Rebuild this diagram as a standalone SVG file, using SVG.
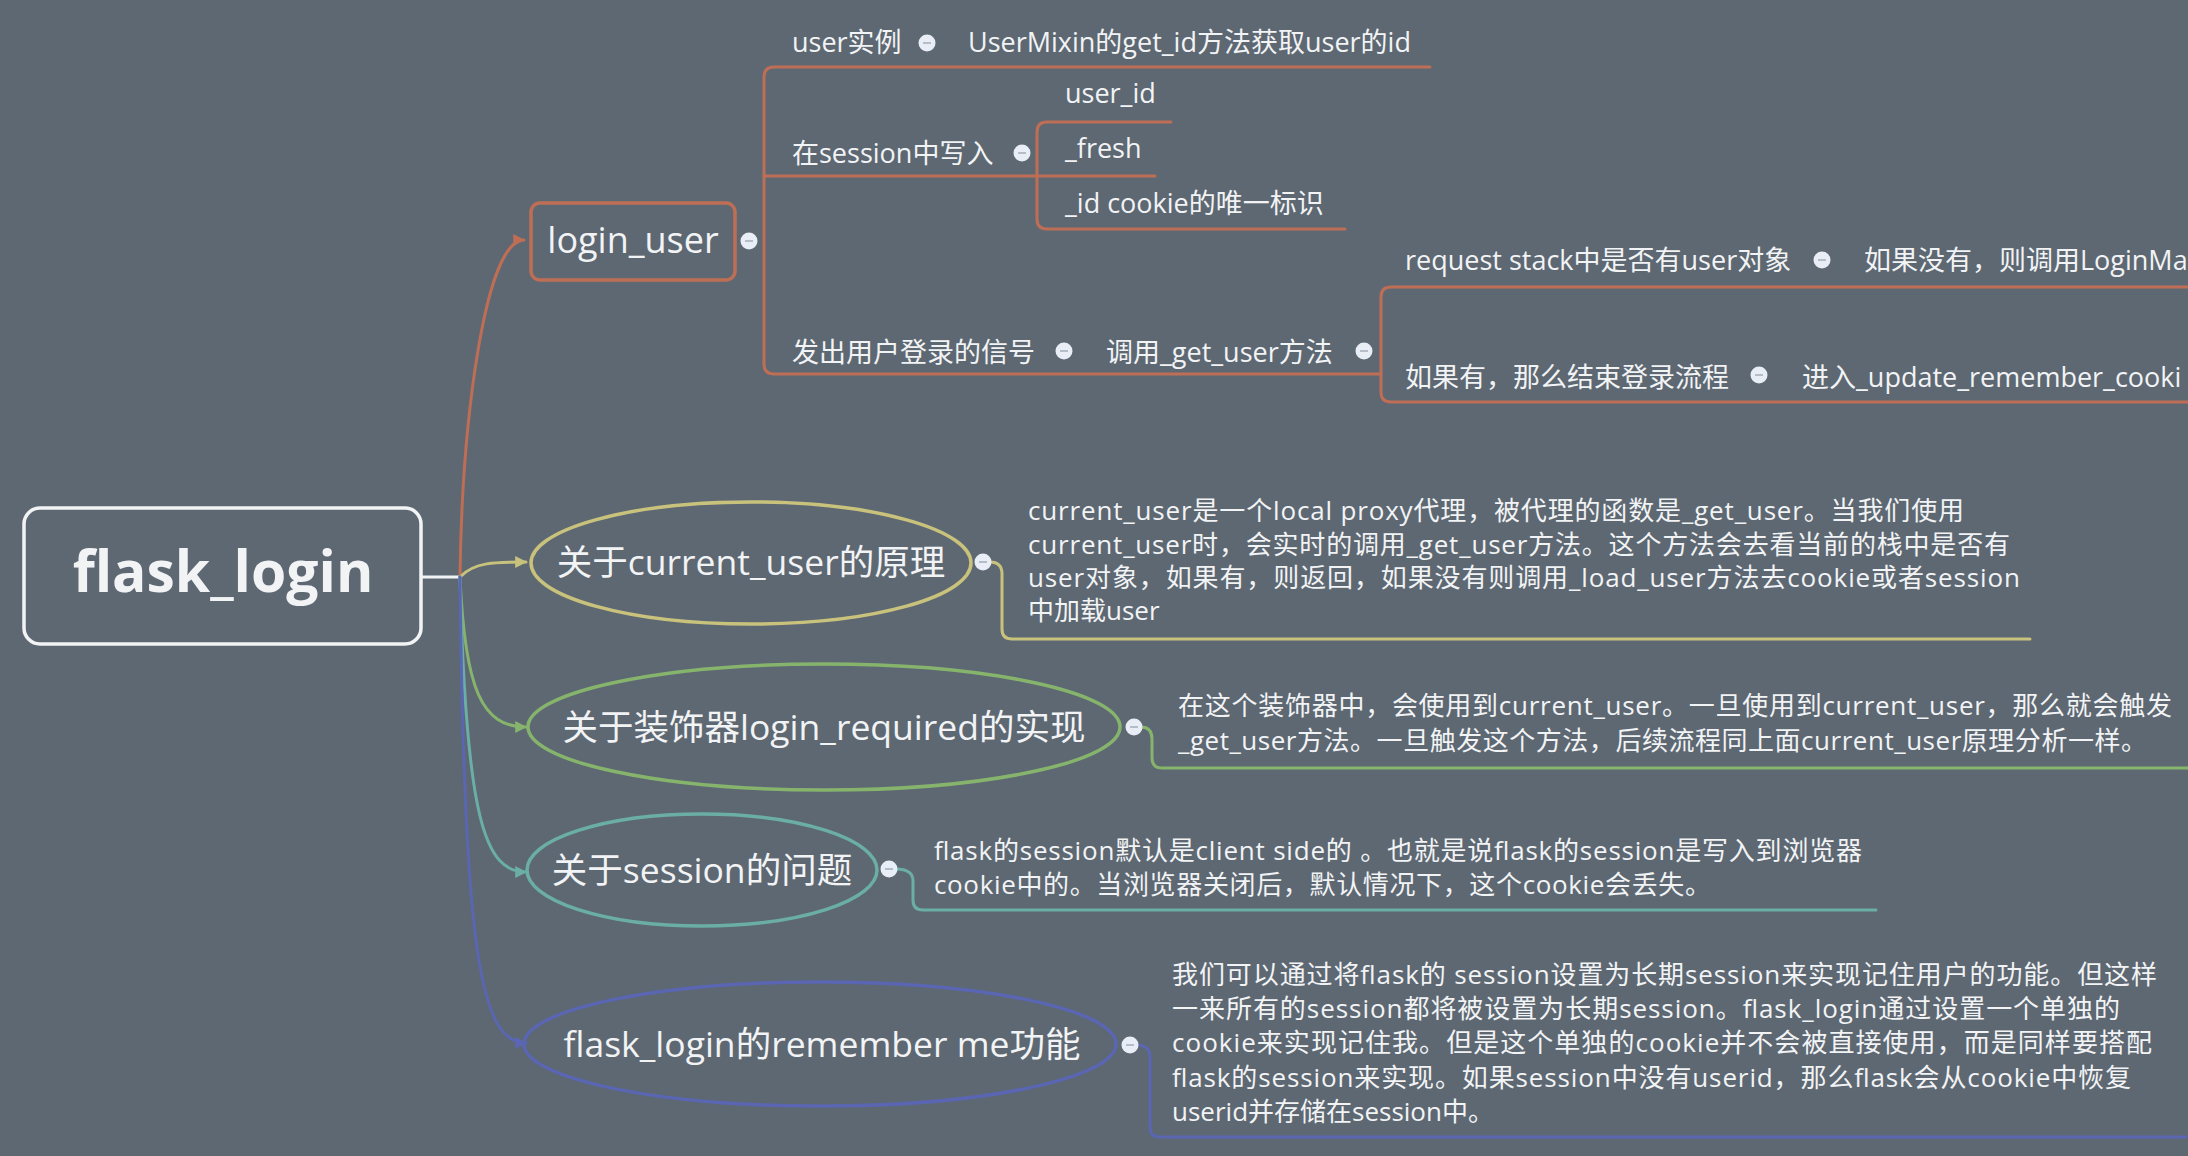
<svg xmlns="http://www.w3.org/2000/svg" width="2188" height="1156" viewBox="0 0 2188 1156">
<style>
text{font-family:"Open Sans","Noto Sans CJK SC",sans-serif;fill:#f2f3f5}
.root{font-size:57px;font-weight:bold}
.lu{font-size:36px}
.sub{font-size:27px}
.el{font-size:35.5px}
.desc{font-size:26px}
.ln{fill:none;stroke-width:3;stroke-linecap:round;stroke-linejoin:round}
.red{stroke:#bf6e56}
.yel{stroke:#c8c27c}
.grn{stroke:#86b46c}
.tea{stroke:#6aaea6}
.blu{stroke:#5a66b2}
.dot circle{fill:#e8edf6}
.dot line{stroke:#a4acb8;stroke-width:1.5}
</style>
<defs>
<marker id="aR" viewBox="0 0 10 10" refX="9" refY="5" markerWidth="4" markerHeight="4" orient="auto"><path d="M0,0L10,5L0,10z" fill="#bf6e56"/></marker>
<marker id="aY" viewBox="0 0 10 10" refX="9" refY="5" markerWidth="4" markerHeight="4" orient="auto"><path d="M0,0L10,5L0,10z" fill="#c8c27c"/></marker>
<marker id="aG" viewBox="0 0 10 10" refX="9" refY="5" markerWidth="4" markerHeight="4" orient="auto"><path d="M0,0L10,5L0,10z" fill="#86b46c"/></marker>
<marker id="aT" viewBox="0 0 10 10" refX="9" refY="5" markerWidth="4" markerHeight="4" orient="auto"><path d="M0,0L10,5L0,10z" fill="#6aaea6"/></marker>
<marker id="aB" viewBox="0 0 10 10" refX="9" refY="5" markerWidth="4" markerHeight="4" orient="auto"><path d="M0,0L10,5L0,10z" fill="#5a66b2"/></marker>
<g id="dotsym" class="dot"><circle cx="0" cy="0" r="8.5"/><line x1="-4" y1="0" x2="4" y2="0"/></g>
</defs>
<rect width="2188" height="1156" fill="#5d6872"/>

<g id="connectors">
<line x1="421" y1="577" x2="461" y2="577" stroke="#f2f3f5" stroke-width="3"/>
<path class="ln red" d="M460,577 C462,420 485,240 524,240" marker-end="url(#aR)"/>
<path class="ln yel" d="M460,577 C474,562 495,562 526,562" marker-end="url(#aY)"/>
<path class="ln grn" d="M460,577 C465,690 482,727 526,727" marker-end="url(#aG)"/>
<path class="ln tea" d="M460,577 C466,820 485,872 526,872" marker-end="url(#aT)"/>
<path class="ln blu" d="M460,577 C464,950 480,1043 526,1043" marker-end="url(#aB)"/>
<!-- login_user children -->
<path class="ln red" d="M1430,67 H774 Q764,67 764,77 V364 Q764,374 774,374 H1381"/>
<path class="ln red" d="M764,176 H1037"/>
<path class="ln red" d="M1171,122 H1047 Q1037,122 1037,132 V219 Q1037,229 1047,229 H1345"/>
<path class="ln red" d="M1037,176 H1155"/>
<path class="ln red" d="M2190,287 H1391 Q1381,287 1381,297 V392 Q1381,402 1391,402 H2190"/>
<!-- description connectors -->
<path class="ln yel" d="M990,562 Q1002,562 1002,574 V629 Q1002,639 1012,639 H2030"/>
<path class="ln grn" d="M1141,727 Q1152,727 1152,739 V758 Q1152,768 1162,768 H2190"/>
<path class="ln tea" d="M896,869 Q913,869 913,881 V900 Q913,910 923,910 H1876"/>
<path class="ln blu" d="M1137,1045 Q1150,1045 1150,1057 V1127 Q1150,1137 1160,1137 H2186"/>
</g>

<g id="root">
<rect x="24" y="508" width="397" height="136" rx="16" fill="none" stroke="#f2f3f5" stroke-width="3.5"/>
<text class="root" x="223" y="592" text-anchor="middle">flask_login</text>
</g>

<g id="login_user">
<rect x="531" y="203" width="204" height="77" rx="9" fill="none" stroke="#bf6e56" stroke-width="3.5"/>
<text class="lu" x="633" y="253" text-anchor="middle">login_user</text>
<use href="#dotsym" x="749" y="241"/>
</g>
<g id="user_instance">
<text class="sub" x="792" y="52">user实例</text>
<use href="#dotsym" x="927" y="43"/>
</g>
<g id="usermixin"><text class="sub" x="968" y="52">UserMixin的get_id方法获取user的id</text></g>
<g id="session_write">
<text class="sub" x="792" y="163">在session中写入</text>
<use href="#dotsym" x="1022" y="153"/>
</g>
<g id="user_id"><text class="sub" x="1065" y="103">user_id</text></g>
<g id="fresh"><text class="sub" x="1065" y="158">_fresh</text></g>
<g id="id_cookie"><text class="sub" x="1065" y="213">_id cookie的唯一标识</text></g>
<g id="signal">
<text class="sub" x="792" y="362">发出用户登录的信号</text>
<use href="#dotsym" x="1064" y="351"/>
</g>
<g id="get_user">
<text class="sub" x="1106" y="362">调用_get_user方法</text>
<use href="#dotsym" x="1364" y="351"/>
</g>
<g id="request_stack">
<text class="sub" x="1405" y="270">request stack中是否有user对象</text>
<use href="#dotsym" x="1822" y="260"/>
</g>
<g id="if_not"><text class="sub" x="1864" y="270">如果没有，则调用LoginMa</text></g>
<g id="if_yes">
<text class="sub" x="1405" y="387">如果有，那么结束登录流程</text>
<use href="#dotsym" x="1759" y="375"/>
</g>
<g id="update_cookie"><text class="sub" x="1802" y="387">进入_update_remember_cooki</text></g>

<g id="current_user">
<ellipse cx="751" cy="563" rx="220" ry="61" fill="none" stroke="#c8c27c" stroke-width="3.5"/>
<text class="el" x="751" y="575" text-anchor="middle">关于current_user的原理</text>
<use href="#dotsym" x="983" y="562"/>
</g>
<g id="current_user_desc">
<text class="desc" x="1028" y="520" textLength="936">current_user是一个local proxy代理，被代理的函数是_get_user。当我们使用</text>
<text class="desc" x="1028" y="554" textLength="982">current_user时，会实时的调用_get_user方法。这个方法会去看当前的栈中是否有</text>
<text class="desc" x="1028" y="587" textLength="992">user对象，如果有，则返回，如果没有则调用_load_user方法去cookie或者session</text>
<text class="desc" x="1028" y="620">中加载user</text>
</g>

<g id="login_required">
<ellipse cx="824" cy="727" rx="296" ry="63" fill="none" stroke="#86b46c" stroke-width="3.5"/>
<text class="el" x="824" y="740" text-anchor="middle">关于装饰器login_required的实现</text>
<use href="#dotsym" x="1134" y="727"/>
</g>
<g id="login_required_desc">
<text class="desc" x="1178" y="715" textLength="994">在这个装饰器中，会使用到current_user。一旦使用到current_user，那么就会触发</text>
<text class="desc" x="1178" y="750" textLength="969">_get_user方法。一旦触发这个方法，后续流程同上面current_user原理分析一样。</text>
</g>

<g id="session_issue">
<ellipse cx="702" cy="870" rx="175" ry="56" fill="none" stroke="#6aaea6" stroke-width="3.5"/>
<text class="el" x="702" y="883" text-anchor="middle">关于session的问题</text>
<use href="#dotsym" x="889" y="869"/>
</g>
<g id="session_desc">
<text class="desc" x="934" y="860" textLength="928">flask的session默认是client side的 。也就是说flask的session是写入到浏览器</text>
<text class="desc" x="934" y="894" textLength="777">cookie中的。当浏览器关闭后，默认情况下，这个cookie会丢失。</text>
</g>

<g id="remember_me">
<ellipse cx="820" cy="1044" rx="296" ry="62" fill="none" stroke="#5a66b2" stroke-width="3.5"/>
<text class="el" x="822" y="1057" text-anchor="middle">flask_login的remember me功能</text>
<use href="#dotsym" x="1130" y="1045"/>
</g>
<g id="remember_desc">
<text class="desc" x="1172" y="984" textLength="985">我们可以通过将flask的 session设置为长期session来实现记住用户的功能。但这样</text>
<text class="desc" x="1172" y="1018" textLength="948">一来所有的session都将被设置为长期session。flask_login通过设置一个单独的</text>
<text class="desc" x="1172" y="1052" textLength="980">cookie来实现记住我。但是这个单独的cookie并不会被直接使用，而是同样要搭配</text>
<text class="desc" x="1172" y="1087" textLength="959">flask的session来实现。如果session中没有userid，那么flask会从cookie中恢复</text>
<text class="desc" x="1172" y="1121">userid并存储在session中。</text>
</g>
</svg>
